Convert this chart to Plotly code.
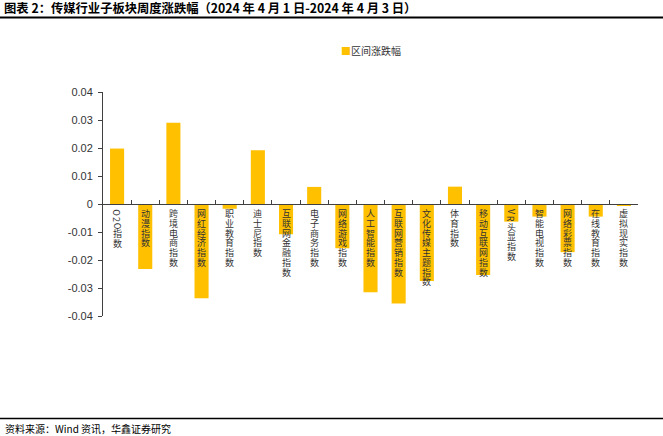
import plotly.graph_objects as go

categories = ["O2O指数", "动漫指数", "跨境电商指数", "网红经济指数", "职业教育指数",
              "迪士尼指数", "互联网金融指数", "电子商务指数", "网络游戏指数", "人工智能指数",
              "互联网营销指数", "文化传媒主题指数", "体育指数", "移动互联网指数", "VR头显指数",
              "智能电视指数", "网络彩票指数", "在线教育指数", "虚拟现实指数"]
values = [0.0198, -0.0232, 0.0290, -0.0337, -0.0017, 0.0192, -0.0108, 0.0061, -0.0158,
          -0.0315, -0.0355, -0.0275, 0.0062, -0.0254, -0.0063, -0.0045, -0.0172, -0.0045,
          -0.0007]
series_name = "区间涨跌幅"
y_tickvals = [0.04, 0.03, 0.02, 0.01, 0, -0.01, -0.02, -0.03, -0.04]
y_ticktext = ["0.04", "0.03", "0.02", "0.01", "0", "-0.01", "-0.02", "-0.03", "-0.04"]
title_text = "图表 2：传媒行业子板块周度涨跌幅（2024 年 4 月 1 日-2024 年 4 月 3 日）"
source_text = "资料来源：Wind 资讯，华鑫证券研究"

W, H = 663, 436
ML, MR, MT, MB = 103, 25, 92, 120
PW, PH = W - ML - MR, H - MT - MB
BAR = "#FFC000"
AX = "#404040"
CJK = "Noto Sans CJK SC"


def px_x(px):
    return (px - ML) / PW


def px_y(py):
    return (H - MB - py) / PH


fig = go.Figure()
fig.add_trace(go.Bar(x=categories, y=values, marker=dict(color=BAR, line=dict(width=0)),
                     showlegend=False, name=series_name))

# vertical category labels, one character per line, just below the zero line
annotations = []
for cat in categories:
    cursor = 5.0
    for ch in cat:
        latin = ord(ch) < 128
        adv = 6.7 if latin else 9.7
        center = cursor + adv / 2
        annotations.append(dict(
            x=cat, y=0, xref="x", yref="y", text=ch, showarrow=False,
            xanchor="center", yanchor="middle", yshift=-center,
            textangle=90 if latin else 0, borderpad=0,
            font=dict(family=CJK, size=9, color="#333333")))
        cursor += adv

# legend (colored square + series name)
annotations.append(dict(x=px_x(339), y=px_y(50), xref="paper", yref="paper",
                        text="<span style='color:%s'>■</span>%s" % (BAR, series_name),
                        showarrow=False, xanchor="left", yanchor="middle",
                        font=dict(family=CJK, size=10, color="#333333")))

annotations.append(dict(x=px_x(2), y=px_y(8), xref="paper", yref="paper", text="<b>" + title_text + "</b>",
                        showarrow=False, xanchor="left", yanchor="middle",
                        font=dict(family=CJK, size=12.3, color="#000000")))
annotations.append(dict(x=px_x(3), y=px_y(428), xref="paper", yref="paper", text=source_text,
                        showarrow=False, xanchor="left", yanchor="middle",
                        font=dict(family=CJK, size=10, color="#000000")))

shapes = [
    dict(type="line", xref="paper", yref="paper", x0=px_x(0), x1=px_x(W), y0=px_y(17.5), y1=px_y(17.5),
         line=dict(color="#000000", width=2)),
    dict(type="line", xref="paper", yref="paper", x0=px_x(0), x1=px_x(W), y0=px_y(418.5), y1=px_y(418.5),
         line=dict(color="#000000", width=1.5)),
]

fig.update_layout(
    width=W, height=H,
    margin=dict(l=ML, r=MR, t=MT, b=MB),
    paper_bgcolor="white", plot_bgcolor="white",
    bargap=0.5,
    showlegend=False,
    annotations=annotations,
    shapes=shapes,
    xaxis=dict(type="category", anchor="free", position=0.5, showline=True, linecolor=AX,
               linewidth=1, ticks="inside", tickson="boundaries", ticklen=4, tickcolor=AX,
               showticklabels=False, showgrid=False, zeroline=False, range=[-0.5, len(categories) - 0.5]),
    yaxis=dict(range=[-0.04, 0.04], tickvals=y_tickvals, ticktext=y_ticktext, showline=True,
               linecolor=AX, linewidth=1, ticks="outside", ticklen=4, tickcolor=AX,
               showgrid=False, zeroline=False, ticklabelstandoff=3,
               tickfont=dict(family="Liberation Sans, Arial", size=11, color="#333333")),
)

fig.write_html("out.html")
